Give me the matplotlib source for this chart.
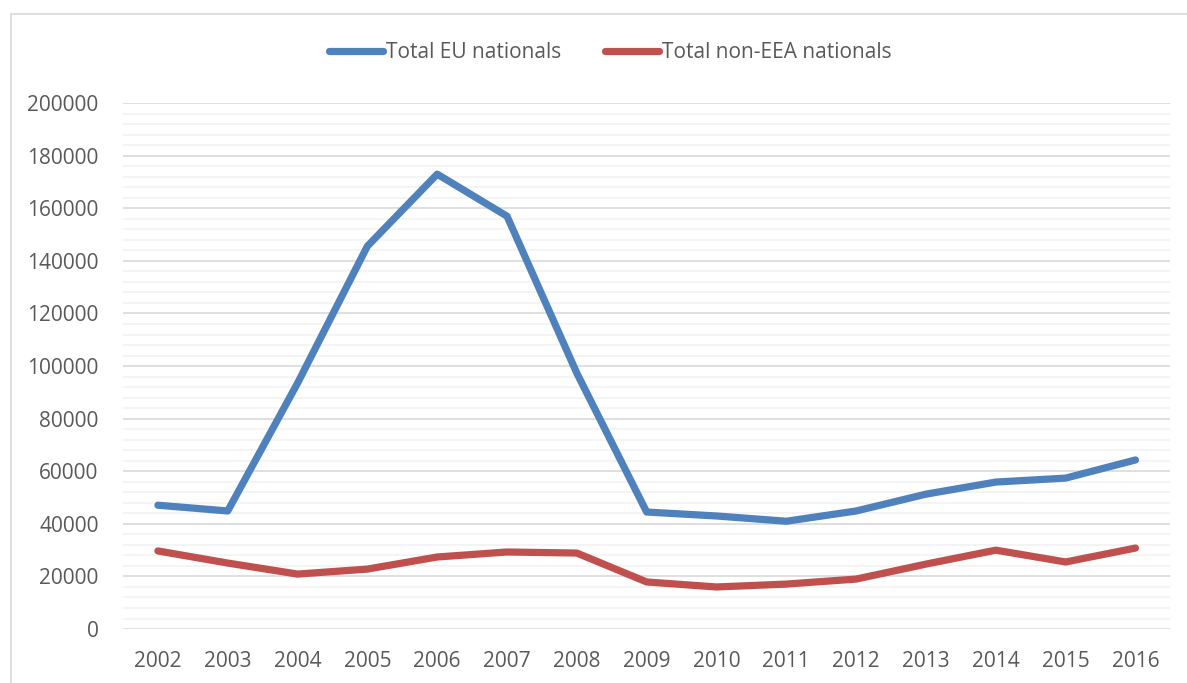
import matplotlib
matplotlib.use("Agg")
import matplotlib.pyplot as plt
from matplotlib.ticker import MultipleLocator
from matplotlib.patches import Rectangle

plt.rcParams['font.family'] = ['Open Sans', 'DejaVu Sans']

# --- Data ---
years = [2002, 2003, 2004, 2005, 2006, 2007, 2008, 2009,
         2010, 2011, 2012, 2013, 2014, 2015, 2016]
eu_nationals = [47100, 44900, 93500, 145600, 173000, 157000, 97300, 44500,
                43000, 41000, 44900, 51300, 55900, 57400, 64300]
non_eea_nationals = [29700, 25100, 20900, 22800, 27400, 29300, 28900, 17900,
                     16000, 17100, 19000, 24700, 30000, 25500, 30800]

text_col = "#595959"
fs = 15

fig = plt.figure(figsize=(11.87, 6.83), dpi=100)
ax = fig.add_axes([0.1036, 0.079, 0.8824, 0.770])

# outer chart border
fig.patches.append(Rectangle((0.009, -0.01), 0.995, 0.99, transform=fig.transFigure,
                             fill=False, edgecolor="#D9D9D9", linewidth=1.2))

x = list(range(len(years)))
ax.plot(x, eu_nationals, color="#4F81BD", linewidth=5.2,
        solid_capstyle="round", solid_joinstyle="round", label="Total EU nationals")
ax.plot(x, non_eea_nationals, color="#C0504D", linewidth=5.2,
        solid_capstyle="round", solid_joinstyle="round", label="Total non-EEA nationals")

ax.set_xlim(-0.5, len(years) - 0.5)
ax.set_ylim(0, 200000)
ax.set_xticks(x)
ax.set_xticklabels([str(y) for y in years])
ax.yaxis.set_major_locator(MultipleLocator(20000))
ax.yaxis.set_minor_locator(MultipleLocator(4000))

ax.grid(axis="y", which="major", color="#D9D9D9", linewidth=1.2)
ax.grid(axis="y", which="minor", color="#F2F2F2", linewidth=1.2)
ax.set_axisbelow(True)

for side in ["top", "right", "left", "bottom"]:
    ax.spines[side].set_visible(False)
ax.tick_params(axis="both", which="both", length=0, labelsize=fs, colors=text_col)
ax.tick_params(axis="y", pad=17.5)
ax.tick_params(axis="x", pad=16)

leg = fig.legend(loc="center", bbox_to_anchor=(0.514, 0.923), ncol=2, frameon=False,
                 fontsize=fs, handlelength=2.6, handletextpad=0.15, columnspacing=2.1)
for t in leg.get_texts():
    t.set_color(text_col)

fig.savefig("out.png", dpi=100)
